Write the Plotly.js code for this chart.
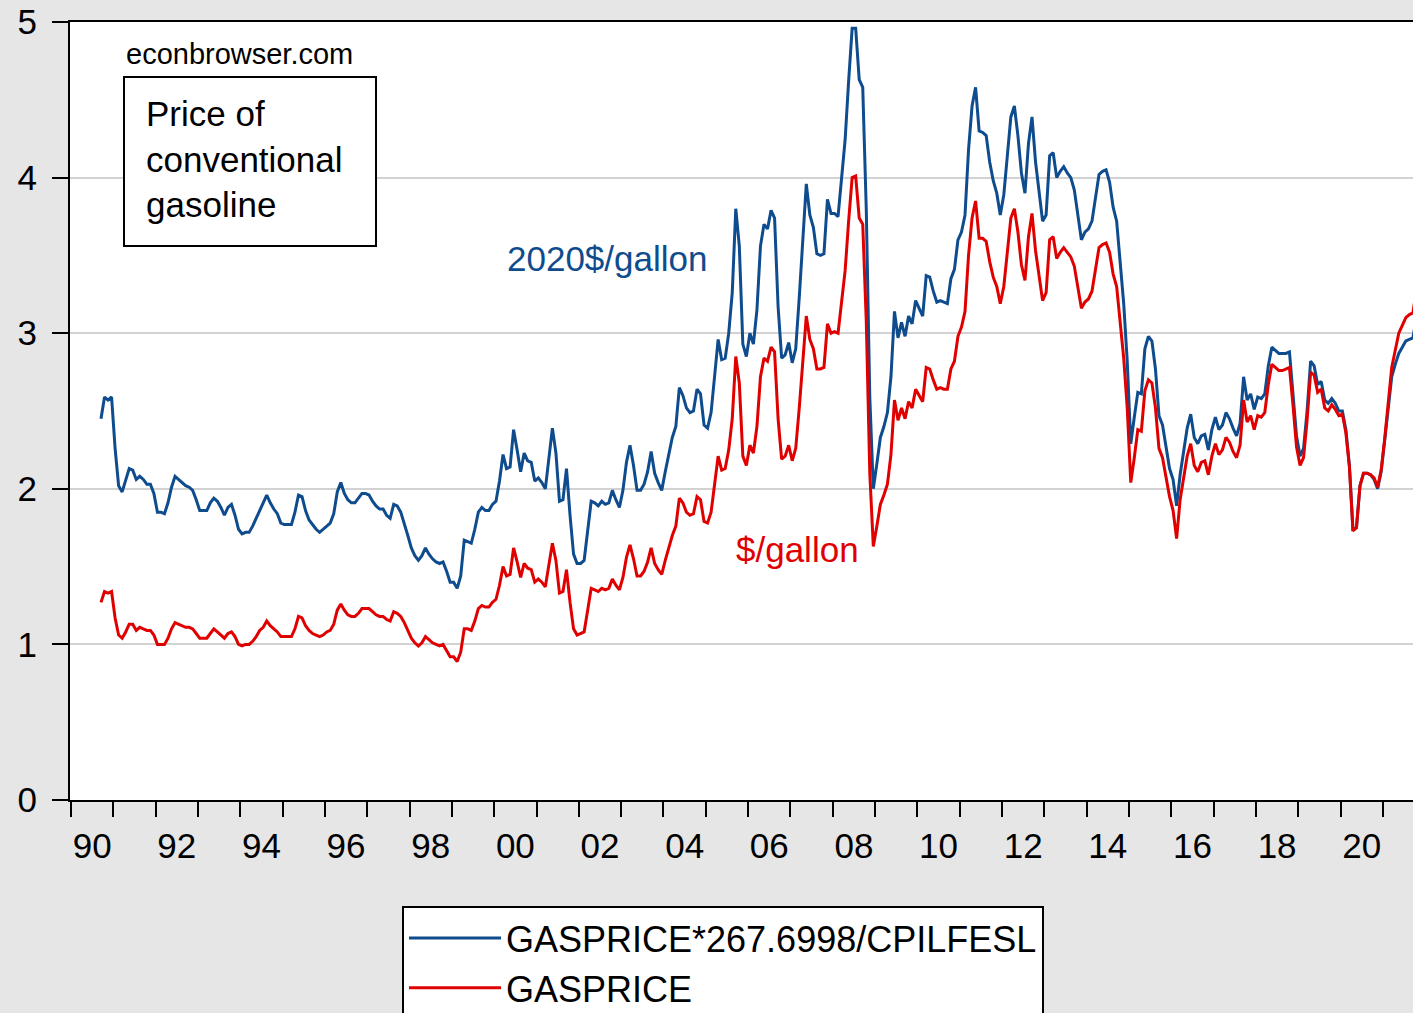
<!DOCTYPE html>
<html>
<head>
<meta charset="utf-8">
<script src="https://cdn.plot.ly/plotly-3.0.1.min.js"></script>
<style>
  html, body { margin: 0; padding: 0; overflow: hidden; background: #e6e6e6; }
  #chart { width: 1440px; height: 1013px; }
</style>
</head>
<body>
<div id="chart"></div>
<script>
// monthly data, first observation Sep 1990
var startYear = 1990;
var startMonth = 9;

// GASPRICE, $/gallon
var gasPrice = [
  1.27, 1.34, 1.33, 1.34,
  1.17, 1.06, 1.04, 1.08, 1.13, 1.13, 1.09, 1.11, 1.10, 1.09, 1.09, 1.06,
  1.00, 1.00, 1.00, 1.04, 1.10, 1.14, 1.13, 1.12, 1.11, 1.11, 1.10, 1.07,
  1.04, 1.04, 1.04, 1.07, 1.10, 1.08, 1.06, 1.04, 1.07, 1.08, 1.05, 1.00,
  0.99, 1.00, 1.00, 1.02, 1.05, 1.09, 1.11, 1.15, 1.12, 1.10, 1.08, 1.05,
  1.05, 1.05, 1.05, 1.10, 1.18, 1.17, 1.12, 1.09, 1.07, 1.06, 1.05, 1.06,
  1.08, 1.09, 1.13, 1.22, 1.26, 1.22, 1.19, 1.18, 1.18, 1.20, 1.23, 1.23,
  1.23, 1.21, 1.19, 1.18, 1.18, 1.16, 1.15, 1.21, 1.20, 1.18, 1.14, 1.09,
  1.04, 1.01, 0.99, 1.01, 1.05, 1.03, 1.01, 1.00, 0.99, 1.00, 0.96, 0.92,
  0.92, 0.89, 0.95, 1.10, 1.10, 1.09, 1.15, 1.23, 1.25, 1.24, 1.24, 1.27,
  1.29, 1.38, 1.50, 1.44, 1.45, 1.62, 1.53, 1.43, 1.52, 1.49, 1.48, 1.40,
  1.42, 1.40, 1.37, 1.52, 1.65, 1.54, 1.33, 1.34, 1.48, 1.27, 1.10, 1.06,
  1.07, 1.08, 1.22, 1.36, 1.35, 1.34, 1.36, 1.35, 1.36, 1.42, 1.38, 1.35,
  1.43, 1.56, 1.64, 1.55, 1.44, 1.44, 1.47, 1.53, 1.62, 1.52, 1.48, 1.45,
  1.54, 1.62, 1.70, 1.76, 1.94, 1.91, 1.85, 1.83, 1.84, 1.95, 1.93, 1.79,
  1.78, 1.85, 2.02, 2.21, 2.12, 2.13, 2.25, 2.45, 2.85, 2.68, 2.21, 2.15,
  2.28, 2.23, 2.40, 2.72, 2.84, 2.82, 2.91, 2.88, 2.45, 2.19, 2.21, 2.28,
  2.18, 2.26, 2.52, 2.82, 3.11, 2.96, 2.90, 2.77, 2.77, 2.78, 3.06, 3.00,
  3.01, 3.00, 3.22, 3.40, 3.72, 4.00, 4.01, 3.74, 3.70, 3.08, 2.10, 1.63,
  1.76, 1.90, 1.96, 2.03, 2.22, 2.57, 2.44, 2.52, 2.45, 2.56, 2.52, 2.64,
  2.60, 2.56, 2.78, 2.77, 2.70, 2.64, 2.65, 2.64, 2.64, 2.77, 2.82, 2.98,
  3.04, 3.14, 3.50, 3.74, 3.85, 3.61, 3.61, 3.59, 3.46, 3.36, 3.30, 3.19,
  3.30, 3.52, 3.74, 3.80, 3.65, 3.44, 3.34, 3.62, 3.77, 3.53, 3.38, 3.21,
  3.26, 3.60, 3.62, 3.48, 3.52, 3.55, 3.52, 3.49, 3.43, 3.30, 3.16, 3.20,
  3.22, 3.27, 3.42, 3.55, 3.57, 3.58, 3.52, 3.38, 3.30, 3.08, 2.84, 2.52,
  2.04, 2.20, 2.38, 2.37, 2.63, 2.70, 2.68, 2.52, 2.26, 2.20, 2.08, 1.95,
  1.86, 1.68, 1.93, 2.08, 2.21, 2.29, 2.15, 2.11, 2.17, 2.18, 2.09, 2.21,
  2.29, 2.22, 2.25, 2.33, 2.30, 2.24, 2.20, 2.28, 2.57, 2.43, 2.47, 2.38,
  2.47, 2.46, 2.49, 2.67, 2.80, 2.78, 2.76, 2.76, 2.77, 2.78, 2.54, 2.27,
  2.15, 2.20, 2.44, 2.75, 2.73, 2.62, 2.64, 2.52, 2.50, 2.54, 2.51, 2.47,
  2.48, 2.36, 2.14, 1.73, 1.75, 2.02, 2.10, 2.10, 2.09, 2.07, 2.01, 2.12,
  2.32, 2.54, 2.78, 2.89, 3.00, 3.05, 3.10, 3.12, 3.13, 3.28
];

// GASPRICE*267.6998/CPILFESL, 2020$/gallon
var gasPriceReal = [
  2.45, 2.59, 2.57, 2.59,
  2.26, 2.02, 1.98, 2.05, 2.13, 2.12, 2.06, 2.08, 2.06, 2.03, 2.03, 1.97,
  1.85, 1.85, 1.84, 1.91, 2.01, 2.08, 2.06, 2.04, 2.02, 2.01, 1.99, 1.93,
  1.86, 1.86, 1.86, 1.91, 1.94, 1.92, 1.88, 1.83, 1.88, 1.90, 1.83, 1.74,
  1.71, 1.72, 1.72, 1.76, 1.81, 1.86, 1.90, 1.96, 1.91, 1.87, 1.84, 1.78,
  1.77, 1.77, 1.77, 1.85, 1.96, 1.95, 1.86, 1.80, 1.77, 1.74, 1.72, 1.74,
  1.76, 1.78, 1.84, 1.98, 2.04, 1.97, 1.93, 1.91, 1.91, 1.94, 1.97, 1.97,
  1.96, 1.92, 1.89, 1.87, 1.87, 1.83, 1.81, 1.90, 1.89, 1.85, 1.78, 1.70,
  1.62, 1.57, 1.54, 1.57, 1.62, 1.58, 1.55, 1.53, 1.52, 1.53, 1.47, 1.40,
  1.40, 1.36, 1.44, 1.67, 1.66, 1.65, 1.74, 1.85, 1.88, 1.86, 1.86, 1.90,
  1.92, 2.05, 2.22, 2.13, 2.14, 2.38, 2.25, 2.11, 2.23, 2.18, 2.17, 2.05,
  2.07, 2.04, 2.00, 2.21, 2.39, 2.23, 1.92, 1.93, 2.13, 1.83, 1.58, 1.52,
  1.52, 1.54, 1.73, 1.92, 1.91, 1.89, 1.92, 1.90, 1.91, 1.99, 1.93, 1.88,
  1.99, 2.17, 2.28, 2.15, 1.99, 1.99, 2.03, 2.11, 2.24, 2.10, 2.04, 1.99,
  2.11, 2.22, 2.33, 2.40, 2.65, 2.60, 2.52, 2.49, 2.50, 2.64, 2.61, 2.41,
  2.39, 2.49, 2.71, 2.96, 2.83, 2.84, 3.00, 3.26, 3.80, 3.56, 2.93, 2.85,
  3.00, 2.93, 3.15, 3.56, 3.70, 3.67, 3.79, 3.74, 3.17, 2.84, 2.86, 2.94,
  2.81, 2.90, 3.23, 3.60, 3.96, 3.76, 3.68, 3.51, 3.50, 3.51, 3.86, 3.77,
  3.77, 3.75, 4.02, 4.24, 4.62, 4.96, 4.96, 4.63, 4.58, 3.80, 2.59, 2.00,
  2.16, 2.33, 2.40, 2.49, 2.72, 3.14, 2.97, 3.07, 2.98, 3.11, 3.06, 3.21,
  3.16, 3.11, 3.37, 3.36, 3.27, 3.20, 3.21, 3.20, 3.19, 3.35, 3.41, 3.60,
  3.65, 3.76, 4.18, 4.46, 4.58, 4.30, 4.29, 4.27, 4.10, 3.98, 3.90, 3.76,
  3.89, 4.14, 4.39, 4.46, 4.27, 4.03, 3.90, 4.22, 4.39, 4.10, 3.92, 3.72,
  3.76, 4.14, 4.16, 4.00, 4.04, 4.07, 4.03, 4.00, 3.92, 3.77, 3.60, 3.65,
  3.67, 3.72, 3.88, 4.02, 4.04, 4.05, 3.97, 3.81, 3.72, 3.46, 3.19, 2.82,
  2.29, 2.46, 2.62, 2.61, 2.90, 2.98, 2.95, 2.77, 2.47, 2.41, 2.27, 2.13,
  2.06, 1.89, 2.09, 2.25, 2.39, 2.48, 2.33, 2.29, 2.34, 2.35, 2.25, 2.38,
  2.46, 2.38, 2.41, 2.49, 2.45, 2.39, 2.34, 2.42, 2.72, 2.57, 2.61, 2.51,
  2.59, 2.58, 2.61, 2.79, 2.91, 2.89, 2.87, 2.87, 2.87, 2.88, 2.62, 2.34,
  2.21, 2.26, 2.50, 2.82, 2.79, 2.67, 2.69, 2.57, 2.55, 2.58, 2.55, 2.50,
  2.50, 2.38, 2.15, 1.74, 1.75, 2.02, 2.10, 2.10, 2.09, 2.06, 2.00, 2.11,
  2.31, 2.50, 2.72, 2.80, 2.87, 2.91, 2.95, 2.96, 2.97, 3.10
];

// axis labels: two-digit years, every other year
var labelYears = [1990, 1992, 1994, 1996, 1998, 2000, 2002, 2004, 2006, 2008, 2010, 2012, 2014, 2016, 2018, 2020];
var labelText = ['90', '92', '94', '96', '98', '00', '02', '04', '06', '08', '10', '12', '14', '16', '18', '20'];

// decimal year at mid-month for each observation
var dates = gasPrice.map(function (v, i) {
  var m = startMonth - 1 + i;
  return startYear + Math.floor(m / 12) + ((m % 12) + 0.5) / 12;
});

var yearTicks = [];
for (var y = 1990; y <= 2022; y++) yearTicks.push(y);

var blue = '#0f4c8e';
var red = '#e00000';
var font = 'Liberation Sans, Arial, sans-serif';

var traceReal = {
  x: dates,
  y: gasPriceReal,
  type: 'scatter',
  mode: 'lines',
  name: 'GASPRICE*267.6998/CPILFESL',
  line: {color: blue, width: 3}
};

var traceNominal = {
  x: dates,
  y: gasPrice,
  type: 'scatter',
  mode: 'lines',
  name: 'GASPRICE',
  line: {color: red, width: 3}
};

var layout = {
  width: 1440,
  height: 1013,
  paper_bgcolor: '#e6e6e6',
  plot_bgcolor: '#ffffff',
  margin: {l: 70, r: 0, t: 22, b: 213, autoexpand: false},
  font: {family: font, color: '#000', size: 35},
  showlegend: true,
  xaxis: {
    range: [1989.976, 2022.349],
    tickmode: 'array',
    tickvals: labelYears.map(function (y) { return y + 0.5; }),
    ticktext: labelText,
    tickangle: 0,
    ticks: '',
    showgrid: false,
    zeroline: false,
    showline: true,
    linecolor: '#000',
    linewidth: 2,
    mirror: true,
    tickfont: {size: 35, family: font},
    ticklabelstandoff: 14,
    minor: {
      tickmode: 'array',
      tickvals: yearTicks,
      ticks: 'outside',
      ticklen: 15,
      tickwidth: 2,
      tickcolor: '#000',
      showgrid: false
    }
  },
  yaxis: {
    range: [0, 5],
    tickvals: [0, 1, 2, 3, 4, 5],
    ticks: 'outside',
    ticklen: 16,
    tickwidth: 2,
    tickcolor: '#000',
    showgrid: true,
    gridcolor: '#d2d2d2',
    gridwidth: 2,
    zeroline: false,
    showline: true,
    linecolor: '#000',
    linewidth: 2,
    mirror: true,
    tickfont: {size: 35, family: font},
    ticklabelstandoff: 8
  },
  legend: {
    xref: 'container',
    yref: 'container',
    x: 402 / 1440,
    y: 1 - 906 / 1013,
    xanchor: 'left',
    yanchor: 'top',
    bgcolor: '#ffffff',
    bordercolor: '#000',
    borderwidth: 2,
    font: {size: 36, family: font},
    itemwidth: 92,
    traceorder: 'normal'
  },
  shapes: [
    {
      type: 'rect', xref: 'x', yref: 'y',
      x0: 1991.252, x1: 1997.207, y0: 3.560, y1: 4.647,
      line: {color: '#000', width: 2},
      fillcolor: '#ffffff',
      layer: 'above'
    }
  ],
  annotations: [
    {
      text: 'econbrowser.com', xref: 'x', yref: 'y',
      x: 1991.252, y: 4.795, xanchor: 'left', yanchor: 'middle',
      showarrow: false, font: {size: 29, color: '#000'}
    },
    {
      text: 'Price of<br>conventional<br>gasoline', xref: 'x', yref: 'y',
      x: 1991.72, y: 4.118, xanchor: 'left', yanchor: 'middle', align: 'left',
      showarrow: false, font: {size: 35, color: '#000'}
    },
    {
      text: '2020$/gallon', xref: 'x', yref: 'y',
      x: 2002.665, y: 3.477, xanchor: 'center', yanchor: 'middle',
      showarrow: false, font: {size: 35, color: blue}
    },
    {
      text: '$/gallon', xref: 'x', yref: 'y',
      x: 2007.155, y: 1.613, xanchor: 'center', yanchor: 'middle',
      showarrow: false, font: {size: 35, color: red}
    }
  ]
};

Plotly.newPlot('chart', [traceReal, traceNominal], layout, {displayModeBar: false, staticPlot: true});
</script>
</body>
</html>
